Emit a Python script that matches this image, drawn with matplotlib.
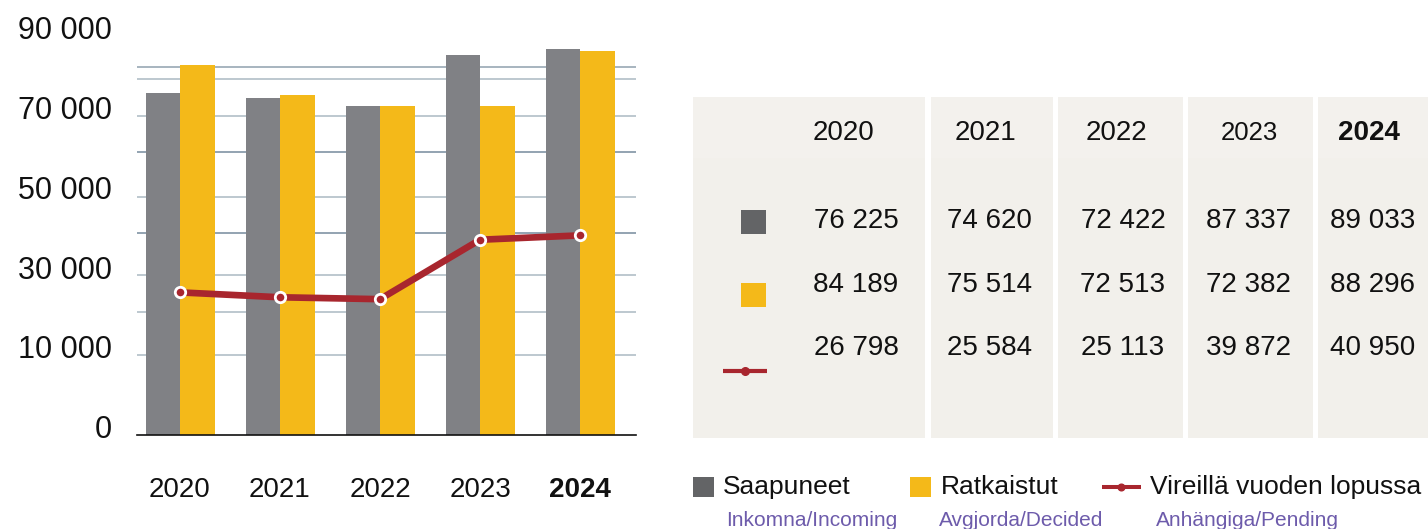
import matplotlib
matplotlib.use("Agg")
import matplotlib.pyplot as plt
from matplotlib.patches import Rectangle
import numpy as np

# ---------------- data ----------------
years = ["2020", "2021", "2022", "2023", "2024"]
incoming = [76225, 74620, 72422, 87337, 89033]      # Saapuneet
decided = [84189, 75514, 72513, 72382, 88296]       # Ratkaistut
pending = [26798, 25584, 25113, 39872, 40950]       # Vireillä vuoden lopussa
ytick_labels = ["0", "10 000", "30 000", "50 000", "70 000", "90 000"]
legend_main = ["Saapuneet", "Ratkaistut", "Vireillä vuoden lopussa"]
legend_sub = ["Inkomna/Incoming", "Avgjorda/Decided", "Anhängiga/Pending"]

# ---------------- style ----------------
GREY = "#808185"
GREY_DARK = "#636466"
YELLOW = "#f4b919"
RED = "#a8262e"
PANEL = "#f2f0eb"
PANEL_HEAD = "#f3f1ed"
PURPLE = "#6d5bab"
GRID_LIGHT = "#b8c4cb"
GRID_DARK = "#8a9cab"

plt.rcParams["font.family"] = ["Liberation Sans", "DejaVu Sans"]

W, H = 1428, 529
fig = plt.figure(figsize=(W / 100, H / 100), dpi=100)

def fx(px):
    return px / W

def fy(py):
    return 1 - py / H

# main axes (pixel layout)
left_px, right_px, base_px, top_px = 137, 636, 435, 10
ax_h_px = base_px - top_px
ax = fig.add_axes([fx(left_px), fy(base_px), fx(right_px - left_px), ax_h_px / H])

# value scale of the bars as drawn in the reference (offset baseline)
bar_px_per_k = 3.445
bar_offset_px = 79.6
ymin = -bar_offset_px / bar_px_per_k * 1000
ymax = ymin + ax_h_px / bar_px_per_k * 1000
ax.set_ylim(ymin, ymax)
ax.set_xlim(-0.43, 4.56)

def frac_to_data(f):
    return ymin + f * (ymax - ymin)

x = np.arange(len(years))
bw = 0.345
ax.bar(x - bw / 2, np.array(incoming) - ymin, bottom=ymin, width=bw, color=GREY, zorder=3)
ax.bar(x + bw / 2, np.array(decided) - ymin, bottom=ymin, width=bw, color=YELLOW, zorder=3)

# decorative gridlines (irregular as in the reference), as fractions of the axes height
grid_fracs = [(base_px - p) / ax_h_px for p in [354.7, 311.7, 275.3, 233, 197, 152, 115.7, 78.7, 67]]
grid_colors = [GRID_LIGHT, GRID_LIGHT, GRID_LIGHT, GRID_DARK, GRID_LIGHT,
               GRID_DARK, GRID_LIGHT, GRID_LIGHT, "#a0afba"]
for f, c in zip(grid_fracs, grid_colors):
    ax.axhline(frac_to_data(f), color=c, lw=1.3, zorder=1)

# y tick labels (evenly spaced text column)
tick_fracs = np.linspace((base_px - 426.7) / ax_h_px, (base_px - 27.7) / ax_h_px, len(ytick_labels))
ax.set_yticks([frac_to_data(f) for f in tick_fracs])
ax.set_yticklabels(ytick_labels, fontsize=22, color="#111111")
ax.tick_params(axis="y", length=0, pad=18)

ax.set_xticks(x)
ax.set_xticklabels(years, fontsize=20, color="#111111")
ax.get_xticklabels()[-1].set_fontweight("bold")
ax.tick_params(axis="x", length=0, pad=30)

for s in ["top", "right", "left"]:
    ax.spines[s].set_visible(False)
ax.spines["bottom"].set_color("#111111")
ax.spines["bottom"].set_linewidth(1.2)
ax.spines["bottom"].set_zorder(4)

# pending line on its own (hidden) scale
line_px_per_k = 4.027
line_offset_px = 34.7
ax2 = ax.twinx()
l_min = -line_offset_px / line_px_per_k * 1000
ax2.set_ylim(l_min, l_min + ax_h_px / line_px_per_k * 1000)
ax2.plot(x, pending, color=RED, lw=4.8, marker="o", ms=7.5, mfc=RED,
         mec="white", mew=2.0, zorder=5, solid_capstyle="butt")
ax2.set_yticks([])
for s in ax2.spines.values():
    s.set_visible(False)
ax2.set_xlim(ax.get_xlim())

# ---------------- overlay: table + legend in pixel coordinates ----------------
ov = fig.add_axes([0, 0, 1, 1])
ov.set_xlim(0, W)
ov.set_ylim(H, 0)
ov.axis("off")
ov.patch.set_alpha(0)

col_edges = [(693, 925), (930.7, 1053.3), (1058.3, 1182.7), (1188.3, 1312.7), (1318.3, 1428)]
tbl_top, tbl_head, tbl_bot = 96.7, 158, 437.7
for x0, x1 in col_edges:
    ov.add_patch(Rectangle((x0, tbl_top), x1 - x0, tbl_bot - tbl_top, color=PANEL, lw=0))
    ov.add_patch(Rectangle((x0, tbl_top), x1 - x0, tbl_head - tbl_top, color=PANEL_HEAD, lw=0))

head_x = [844, 985, 1116.5, 1249, 1369]
num_x = [856, 989.5, 1123, 1248, 1373]
row_y = [220.7, 285, 348.3]
head_y = 132.7

def fmt(v):
    return f"{v:,}".replace(",", " ")

for i, yr in enumerate(years):
    kw = dict(ha="center", va="center", fontsize=20, color="#111111")
    if i == len(years) - 1:
        kw["fontweight"] = "bold"
    if yr == "2023":
        kw["fontsize"] = 18.5
    ov.text(head_x[i], head_y, yr, **kw)
    for r, series in enumerate([incoming, decided, pending]):
        ov.text(num_x[i], row_y[r], fmt(series[i]), ha="center", va="center",
                fontsize=20, color="#111111")

# legend icons inside the table
ov.add_patch(Rectangle((741, 210), 25, 24.3, color=GREY_DARK, lw=0))
ov.add_patch(Rectangle((741, 282.7), 25, 24.6, color=YELLOW, lw=0))
ov.plot([722.7, 767.3], [370.7, 370.7], color=RED, lw=3.0, solid_capstyle="butt")
ov.plot([745], [370.7], "o", color=RED, ms=5.5)

# bottom legend
leg_y = 487
ov.add_patch(Rectangle((693.3, 476.7), 21, 20, color=GREY_DARK, lw=0))
ov.add_patch(Rectangle((910, 476.7), 20.7, 20, color=YELLOW, lw=0))
ov.plot([1101.7, 1140.7], [leg_y, leg_y], color=RED, lw=2.9, solid_capstyle="butt")
ov.plot([1120.7], [leg_y], "o", color=RED, ms=4.8)
main_x = [723.3, 941, 1150]
sub_x = [725.7, 939.3, 1156]
for i in range(3):
    ov.text(main_x[i], leg_y, legend_main[i], ha="left", va="center",
            fontsize=19, color="#111111")
    ov.text(sub_x[i], 520, legend_sub[i], ha="left", va="center",
            fontsize=15, color=PURPLE)

fig.savefig("out.png", dpi=100)
